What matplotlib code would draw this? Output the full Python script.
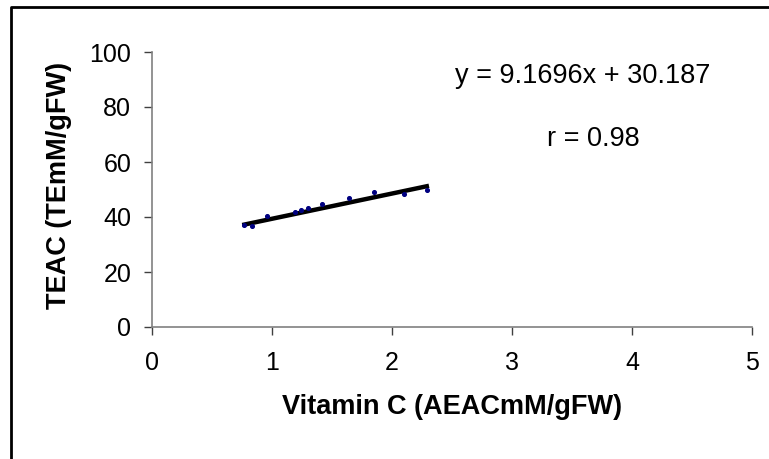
import matplotlib.pyplot as plt
import numpy as np
from matplotlib.lines import Line2D

# datos
vit_c = [0.77, 0.83, 0.96, 1.19, 1.24, 1.30, 1.42, 1.64, 1.85, 2.10, 2.29]
teac = [37.1, 36.8, 40.3, 42.0, 42.7, 43.4, 44.6, 47.0, 49.2, 48.5, 50.0]
pendiente = 9.1696
intercepto = 30.187
x_ticks = [0, 1, 2, 3, 4, 5]
y_ticks = [0, 20, 40, 60, 80, 100]

plt.rcParams["font.family"] = ["Liberation Sans", "DejaVu Sans"]

fig = plt.figure(figsize=(7.69, 4.59), dpi=100)
W, H = 769, 459
ax = fig.add_axes([152 / W, 1 - 327 / H, 600 / W, 275 / H])

ax.scatter(vit_c, teac, s=7, color="#000080", zorder=3)
xs = np.array([min(vit_c), max(vit_c)])
ax.plot(xs, pendiente * xs + intercepto, color="black", lw=3.2, zorder=2)

ax.set_xlim(0, 5)
ax.set_ylim(0, 100)
ax.set_xticks(x_ticks)
ax.set_yticks(y_ticks)
ax.tick_params(labelsize=18, length=6, width=1, color="#404040")
ax.tick_params(axis="y", pad=9)
ax.tick_params(axis="x", pad=11)
for s in ["top", "right"]:
    ax.spines[s].set_visible(False)
for s in ["left", "bottom"]:
    ax.spines[s].set_color("#808080")
    ax.spines[s].set_linewidth(1.2)

fig.text(452 / W, 1 - 407 / H, "Vitamin C (AEACmM/gFW)", ha="center", va="center",
         fontsize=19.5, fontweight="bold")
fig.text(59 / W, 1 - 185 / H, "TEAC (TEmM/gFW)", ha="center", va="center",
         rotation=90, fontsize=19.5, fontweight="bold")
fig.text(583 / W, 1 - 76 / H, "y = 9.1696x + 30.187", ha="center", va="center", fontsize=19.5)
fig.text(593 / W, 1 - 139 / H, "r = 0.98", ha="center", va="center", fontsize=19.5)

# marco exterior (solo se ven el borde superior y el izquierdo)
fig.lines.append(Line2D([11 / W, 11 / W, 1.01], [-0.01, 1 - 7 / H, 1 - 7 / H],
                        transform=fig.transFigure, color="black", lw=2))

fig.savefig("out.png", dpi=100)
